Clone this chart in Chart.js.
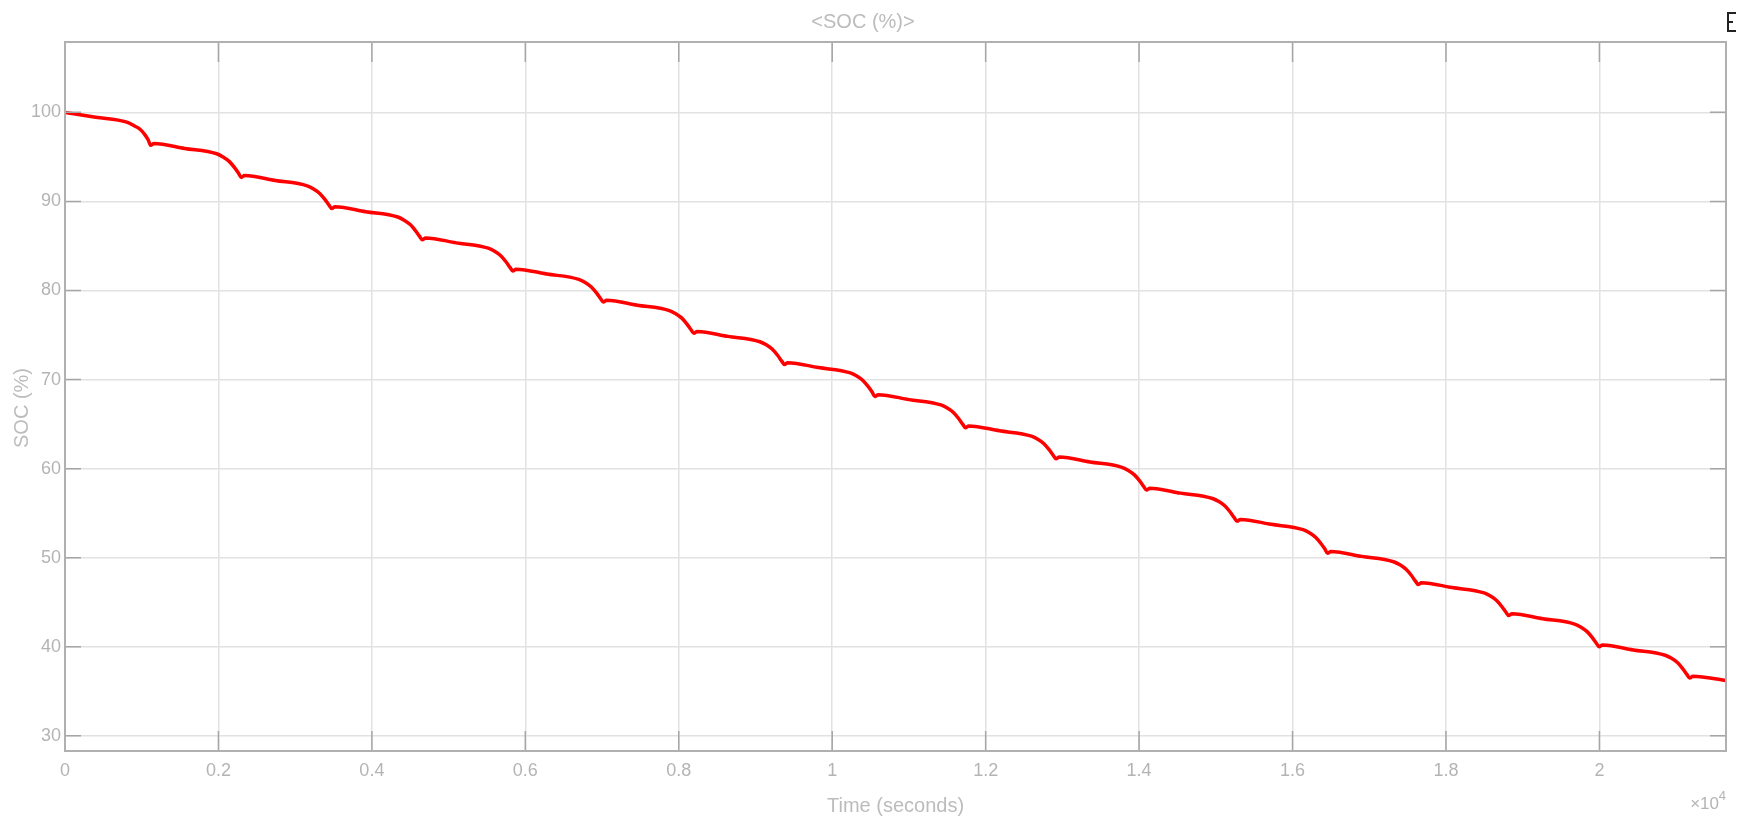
<!DOCTYPE html>
<html>
<head>
<meta charset="utf-8">
<title>SOC (%)</title>
<script src="https://cdn.jsdelivr.net/npm/chart.js@4.4.1/dist/chart.umd.min.js"></script>
<style>
  html, body { margin: 0; padding: 0; background: #fff; }
  #wrap { position: relative; width: 1748px; height: 818px; }
</style>
</head>
<body>
<div id="wrap"><canvas id="soc" width="1748" height="818"></canvas></div>
<script>
// SOC trace (time in seconds, SOC in %)
const timeSec = [
    0, 400, 804, 900, 978, 1040, 1085, 1117,
    1160, 1560, 1977, 2060, 2140, 2210, 2260, 2297,
    2340, 2740, 3157, 3240, 3320, 3390, 3440, 3477,
    3520, 3920, 4337, 4420, 4500, 4570, 4620, 4657,
    4700, 5100, 5517, 5600, 5680, 5750, 5800, 5837,
    5880, 6280, 6697, 6780, 6860, 6930, 6980, 7017,
    7060, 7460, 7877, 7960, 8040, 8110, 8160, 8197,
    8240, 8640, 9057, 9140, 9220, 9290, 9340, 9377,
    9420, 9820, 10237, 10320, 10400, 10470, 10520, 10557,
    10600, 11000, 11417, 11500, 11580, 11650, 11700, 11737,
    11780, 12180, 12597, 12680, 12760, 12830, 12880, 12917,
    12960, 13360, 13777, 13860, 13940, 14010, 14060, 14097,
    14140, 14540, 14957, 15040, 15120, 15190, 15240, 15277,
    15320, 15720, 16137, 16220, 16300, 16370, 16420, 16457,
    16500, 16900, 17317, 17400, 17480, 17550, 17600, 17637,
    17680, 18080, 18497, 18580, 18660, 18730, 18780, 18817,
    18860, 19260, 19677, 19760, 19840, 19910, 19960, 19997,
    20040, 20440, 20857, 20940, 21020, 21090, 21140, 21177,
    21220, 21650
];
const socPct = [
    100.0, 99.45, 98.9, 98.5, 98.1, 97.5, 96.9, 96.3,
    96.5, 95.95, 95.35, 95.0, 94.5, 93.8, 93.2, 92.7,
    92.9, 92.35, 91.75, 91.4, 90.9, 90.2, 89.6, 89.2,
    89.4, 88.85, 88.25, 87.9, 87.4, 86.7, 86.1, 85.7,
    85.9, 85.35, 84.75, 84.4, 83.9, 83.2, 82.6, 82.2,
    82.4, 81.85, 81.25, 80.9, 80.4, 79.7, 79.1, 78.7,
    78.9, 78.35, 77.75, 77.4, 76.9, 76.2, 75.6, 75.2,
    75.4, 74.85, 74.25, 73.9, 73.4, 72.7, 72.1, 71.7,
    71.9, 71.35, 70.75, 70.4, 69.9, 69.2, 68.6, 68.1,
    68.3, 67.75, 67.15, 66.8, 66.3, 65.6, 65.0, 64.6,
    64.8, 64.25, 63.65, 63.3, 62.8, 62.1, 61.5, 61.1,
    61.3, 60.75, 60.15, 59.8, 59.3, 58.6, 58.0, 57.6,
    57.8, 57.25, 56.65, 56.3, 55.8, 55.1, 54.5, 54.1,
    54.3, 53.75, 53.15, 52.8, 52.3, 51.6, 51.0, 50.5,
    50.7, 50.15, 49.55, 49.2, 48.7, 48.0, 47.4, 47.0,
    47.2, 46.65, 46.05, 45.7, 45.2, 44.5, 43.9, 43.5,
    43.7, 43.15, 42.55, 42.2, 41.7, 41.0, 40.4, 40.0,
    40.2, 39.65, 39.05, 38.7, 38.2, 37.5, 36.9, 36.5,
    36.7, 36.2
];

// axis ranges and tick positions
const xMin = 0, xMax = 21650;
const yMin = 28.3, yMax = 107.9;
const xTicks = [0, 2000, 4000, 6000, 8000, 10000, 12000, 14000, 16000, 18000, 20000];
const xTickLabels = ['0', '0.2', '0.4', '0.6', '0.8', '1', '1.2', '1.4', '1.6', '1.8', '2'];
const yTicks = [30, 40, 50, 60, 70, 80, 90, 100];

const points = timeSec.map((t, i) => ({ x: t, y: socPct[i] }));

const textGrey = '#b4b4b4';
const tickFont = { family: '"Liberation Sans", Arial, sans-serif', size: 18 };
const labelFont = { family: '"Liberation Sans", Arial, sans-serif', size: 20, weight: 'normal' };

// box around the axes, inward tick marks, y label and the x10^4 exponent
const scopeFrame = {
    id: 'scopeFrame',
    afterDraw(chart) {
        const ctx = chart.ctx;
        const a = chart.chartArea;
        const xs = chart.scales.x;
        const ys = chart.scales.y;
        ctx.save();
        ctx.strokeStyle = '#a6a6a6';
        ctx.lineWidth = 1.5;
        xs.ticks.forEach(tk => {
            const px = xs.getPixelForValue(tk.value);
            ctx.beginPath();
            ctx.moveTo(px, a.bottom); ctx.lineTo(px, a.bottom - 20);
            ctx.moveTo(px, a.top); ctx.lineTo(px, a.top + 20);
            ctx.stroke();
        });
        ys.ticks.forEach(tk => {
            const py = ys.getPixelForValue(tk.value);
            ctx.beginPath();
            ctx.moveTo(a.left, py); ctx.lineTo(a.left + 16, py);
            ctx.moveTo(a.right, py); ctx.lineTo(a.right - 16, py);
            ctx.stroke();
        });
        ctx.strokeStyle = '#b0b0b0';
        ctx.lineWidth = 2;
        ctx.strokeRect(a.left, a.top, a.right - a.left, a.bottom - a.top);

        // y axis label, sits a little below the middle in the original
        ctx.save();
        ctx.translate(22, 408);
        ctx.rotate(-Math.PI / 2);
        ctx.fillStyle = '#bcbcbc';
        ctx.font = '20px "Liberation Sans", Arial, sans-serif';
        ctx.textAlign = 'center';
        ctx.textBaseline = 'middle';
        ctx.fillText('SOC (%)', 0, 0);
        ctx.restore();

        // exponent label
        ctx.fillStyle = textGrey;
        ctx.textBaseline = 'alphabetic';
        ctx.textAlign = 'right';
        ctx.font = '13px "Liberation Sans", Arial, sans-serif';
        ctx.fillText('4', a.right, 800);
        ctx.font = '17px "Liberation Sans", Arial, sans-serif';
        ctx.fillText('\u00d710', a.right - 7, 809);

        // little cut-off button in the corner
        ctx.strokeStyle = '#222';
        ctx.lineWidth = 2;
        ctx.beginPath();
        ctx.moveTo(1736, 13); ctx.lineTo(1728, 13); ctx.lineTo(1728, 31); ctx.lineTo(1736, 31);
        ctx.moveTo(1728, 22); ctx.lineTo(1733, 22);
        ctx.stroke();
        ctx.restore();
    }
};

new Chart(document.getElementById('soc'), {
    type: 'line',
    data: {
        datasets: [{
            data: points,
            borderColor: '#ff0000',
            borderWidth: 3.5,
            pointRadius: 0,
            fill: false,
            cubicInterpolationMode: 'monotone'
        }]
    },
    options: {
        responsive: false,
        animation: false,
        devicePixelRatio: 1,
        layout: { padding: { left: 0, right: 22, top: 0, bottom: 0 } },
        plugins: {
            legend: { display: false },
            tooltip: { enabled: false },
            title: {
                display: true,
                text: '<SOC (%)>',
                color: '#bcbcbc',
                font: labelFont,
                padding: { top: 10, bottom: 8 }
            }
        },
        scales: {
            x: {
                type: 'linear',
                min: xMin,
                max: xMax,
                afterBuildTicks(scale) {
                    scale.ticks = xTicks.map(v => ({ value: v }));
                    scale.min = xMin;
                    scale.max = xMax;
                },
                afterFit(scale) { scale.height = 67; },
                grid: { color: '#e2e2e2', lineWidth: 1.5, drawTicks: false },
                border: { display: false },
                ticks: {
                    autoSkip: false,
                    color: textGrey,
                    font: tickFont,
                    padding: 9,
                    maxRotation: 0,
                    callback: (v) => xTickLabels[xTicks.indexOf(v)]
                },
                title: {
                    display: true,
                    text: 'Time (seconds)',
                    color: '#bcbcbc',
                    font: labelFont,
                    padding: { top: 6, bottom: 0 }
                }
            },
            y: {
                type: 'linear',
                min: yMin,
                max: yMax,
                afterBuildTicks(scale) {
                    scale.ticks = yTicks.map(v => ({ value: v }));
                    scale.min = yMin;
                    scale.max = yMax;
                },
                afterFit(scale) { scale.width = 65; },
                grid: { color: '#e2e2e2', lineWidth: 1.5, drawTicks: false },
                border: { display: false },
                ticks: {
                    autoSkip: false,
                    color: textGrey,
                    font: tickFont,
                    padding: 4
                },
                title: { display: false }
            }
        }
    },
    plugins: [scopeFrame]
});
</script>
</body>
</html>
